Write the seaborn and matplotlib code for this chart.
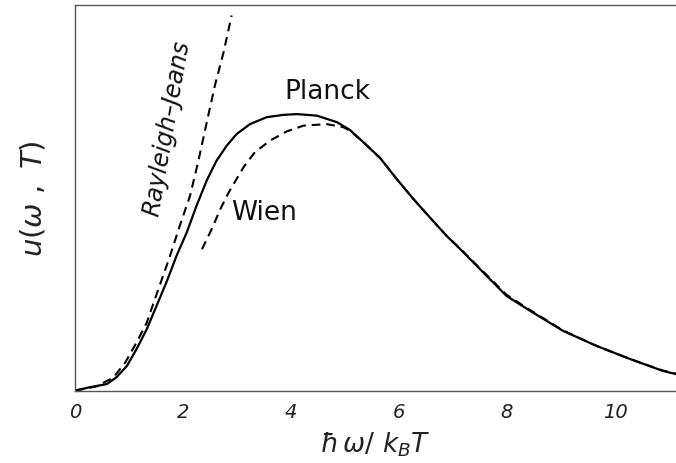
import numpy as np
import pandas as pd
import matplotlib
matplotlib.use("Agg")
import matplotlib.pyplot as plt
import seaborn as sns

# Werte (x = hbar*omega/kT, y in willkuerlichen Einheiten)
planck_x = [0, 0.28, 0.59, 0.77, 0.96, 1.14, 1.33, 1.51, 1.70, 1.88, 2.07, 2.25,
            2.44, 2.62, 2.81, 2.99, 3.24, 3.55, 3.86, 4.11, 4.48, 4.85, 5.09, 5.34,
            5.65, 5.96, 6.27, 6.57, 6.88, 7.13, 7.56, 7.99, 8.43, 9.04, 9.66,
            10.28, 10.89, 11.13]
planck_y = [0, 0.009, 0.017, 0.035, 0.064, 0.108, 0.160, 0.220, 0.284, 0.350, 0.411,
            0.480, 0.546, 0.597, 0.636, 0.666, 0.692, 0.710, 0.716, 0.718, 0.714,
            0.697, 0.677, 0.645, 0.604, 0.549, 0.497, 0.450, 0.402, 0.368, 0.307,
            0.246, 0.207, 0.155, 0.116, 0.082, 0.051, 0.043]

rj_x = [0, 0.40, 0.71, 0.93, 1.14, 1.33, 1.48, 1.61, 1.76, 1.94, 2.13, 2.28,
        2.44, 2.59, 2.75, 2.90]
rj_y = [0, 0.011, 0.034, 0.073, 0.125, 0.177, 0.238, 0.290, 0.350, 0.428, 0.506,
        0.594, 0.697, 0.792, 0.878, 0.974]

wien_x = [2.35, 2.53, 2.69, 2.84, 2.99, 3.12, 3.33, 3.61, 3.92, 4.23, 4.66, 4.97,
          5.09, 5.34, 5.65, 5.96, 6.27, 6.57, 6.88, 7.13, 7.56, 7.99, 8.43, 9.04,
          9.66, 10.28, 10.89, 11.13]
wien_y = [0.367, 0.419, 0.471, 0.513, 0.549, 0.580, 0.619, 0.649, 0.673, 0.688,
          0.692, 0.684, 0.675, 0.645, 0.604, 0.549, 0.497, 0.450, 0.402, 0.369,
          0.309, 0.249, 0.209, 0.156, 0.116, 0.082, 0.052, 0.044]

x_ticks = [0, 2, 4, 6, 8, 10]

sns.set_style("white")
plt.rcParams['font.family'] = ['DejaVu Sans']
plt.rcParams['mathtext.fontset'] = 'dejavusans'

fig = plt.figure(figsize=(6.76, 4.64), dpi=100)
ax = fig.add_axes([0.111, 0.156, 0.889, 0.83])

df_p = pd.DataFrame({"x": planck_x, "y": planck_y})
df_rj = pd.DataFrame({"x": rj_x, "y": rj_y})
df_w = pd.DataFrame({"x": wien_x, "y": wien_y})

dash = (0, (4.2, 2.8))
sns.lineplot(data=df_p, x="x", y="y", ax=ax, color="black", lw=1.6)
sns.lineplot(data=df_rj, x="x", y="y", ax=ax, color="black", lw=1.5, linestyle=dash)
sns.lineplot(data=df_w, x="x", y="y", ax=ax, color="black", lw=1.5, linestyle=dash)

ax.set_xlim(0, 11.13)
ax.set_ylim(0, 1.0)

# Achsen
ax.spines['right'].set_visible(False)
for s in ['left', 'bottom', 'top']:
    ax.spines[s].set_color("#555555")
    ax.spines[s].set_linewidth(1.0)
ax.set_yticks([])
ax.set_xticks(x_ticks)
ax.set_xticklabels([str(t) for t in x_ticks], fontsize=14, style="italic", color="#222222")
ax.tick_params(axis="x", direction="in", length=7, width=0.8, color="#555555", pad=8)

ax.set_xlabel(r"$\hbar\,\omega/\ k_{B}T$", fontsize=19, labelpad=6, color="#222222")
ax.set_ylabel(r"$u(\omega\ ,\ T)$", fontsize=21, labelpad=20, color="#222222")

# Beschriftungen der Kurven
ax.text(4.67, 0.778, "Planck", fontsize=19, ha="center", va="center", color="#111111")
ax.text(3.5, 0.465, "Wien", fontsize=19, ha="center", va="center", color="#111111")
ax.text(1.71, 0.683, "Rayleigh–Jeans", fontsize=17, ha="center", va="center",
        rotation=80, style="italic", color="#111111")

fig.savefig("out.png", dpi=100)
